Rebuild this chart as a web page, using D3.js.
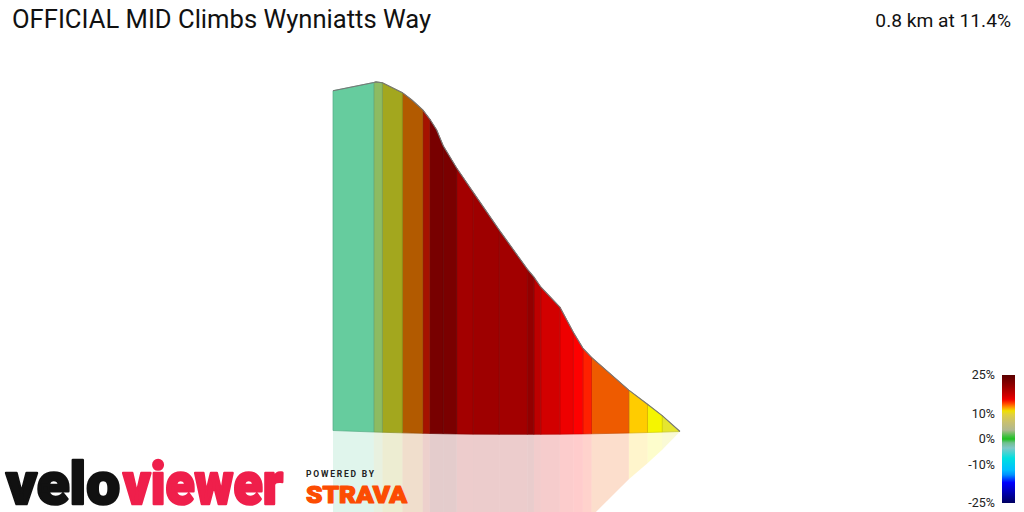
<!DOCTYPE html>
<html><head><meta charset="utf-8">
<script src="https://cdn.jsdelivr.net/npm/d3@7"></script>
<style>body{margin:0;background:#fff;overflow:hidden}svg{display:block}</style>
</head><body><svg id="c" width="1024" height="512"></svg>
<script>
// ---------- data ----------
const titleText = "OFFICIAL MID Climbs Wynniatts Way";
const summaryText = "0.8 km at 11.4%";
// profile: distance from start of climb (m) and elevation above lowest point (m)
const profileDist = [0, 41, 75, 118, 204, 224, 246, 277, 321, 337, 352, 417, 477, 515, 546, 561, 577, 593, 618, 640, 686, 701, 706, 800];
const profileElev = [0, 4.4, 7.6, 11.5, 20.5, 23.0, 27.3, 34.1, 39.5, 42.2, 44.3, 54.8, 64.9, 71.3, 77.2, 81.4, 84.3, 86.7, 89.3, 91.2, 93.7, 93.9, 93.7, 91.1];
// gradient segments (boundaries in m) and their colours
const segmentBreaks = [0, 41, 75, 118, 204, 224, 246, 277, 321, 337, 352, 417, 477, 515, 546, 577, 593, 640, 686, 706, 800];
const segmentColors = ["#E5E52E", "#F5F500", "#FFCC00", "#EE5B00", "#FF2000", "#FF0000", "#EE0000", "#D20000", "#BC0000", "#920000",
  "#A20000", "#9E0000", "#A30000", "#7A0000", "#780000", "#A51200", "#B25A00", "#A3A71E", "#8DBB62", "#66CC9E"];
// legend
const legendTicks = [25, 10, 0, -10, -25];
const legendStopGrades = [25, 21, 17, 15.5, 14, 12.5, 11, 9.5, 6.5, 3.5, 1, 0, -1.5, -3.5, -7.5, -12, -14, -17, -21, -25];
const legendStopColors = ["#5a0000", "#900000", "#d00000", "#ee0000", "#ff4000", "#ff9000", "#f0e000", "#e0d040", "#c8c070", "#b0b890",
  "#40c040", "#20c020", "#70c090", "#80c8c8", "#00e0e0", "#00c0ff", "#0090ff", "#0000ff", "#0000b0", "#000060"];

// ---------- scales ----------
const svg = d3.select("#c");
const x = d3.scaleLinear().domain([0, 800]).range([680, 333]);
const h = d3.scaleLinear().domain([0, 94]).range([0, 350.6]);
const elevAt = d3.scaleLinear().domain(profileDist).range(profileElev);
// slight perspective sag of the ground line
const baseY = d => { const t = d / 800; return 431.5 + 12.4 * t - 13.4 * t * t; };
const topPt = d => [x(d), baseY(d) - h(elevAt(d))];
const reflPt = d => [x(d), baseY(d) + 1.08 * h(elevAt(d))];

function segDists(i) {
  const d0 = segmentBreaks[i], d1 = segmentBreaks[i + 1];
  return [d0, ...profileDist.filter(d => d > d0 && d < d1), d1];
}
const line = d3.line();

// reflections
const gR = svg.append("g");
segmentBreaks.slice(0, -1).forEach((_, i) => {
  const ds = segDists(i);
  const pts = [[x(ds[0]), baseY(ds[0])], ...ds.map(reflPt), [x(ds[ds.length - 1]), baseY(ds[ds.length - 1])]];
  gR.append("path").attr("d", line(pts) + "Z")
    .attr("fill", segmentColors[i]).attr("fill-opacity", 0.2).attr("stroke", "none");
});

// main profile segments
const gM = svg.append("g");
segmentBreaks.slice(0, -1).forEach((_, i) => {
  const ds = segDists(i);
  const pts = [[x(ds[0]), baseY(ds[0])], ...ds.map(topPt), [x(ds[ds.length - 1]), baseY(ds[ds.length - 1])]];
  gM.append("path").attr("d", line(pts) + "Z")
    .attr("fill", segmentColors[i])
    .attr("stroke", d3.color(segmentColors[i]).darker(0.5)).attr("stroke-width", 0.7);
});
// top outline
svg.append("path").attr("d", line(profileDist.map(topPt)))
  .attr("fill", "none").attr("stroke", "#777").attr("stroke-width", 1.1);

// ---------- titles ----------
svg.append("text").attr("x", 12).attr("y", 28).text(titleText)
  .attr("font-family", "Roboto").attr("font-size", 25.6).attr("fill", "#111");
svg.append("text").attr("x", 1011).attr("y", 27).attr("text-anchor", "end").text(summaryText)
  .attr("font-family", "Roboto").attr("font-size", 19.2).attr("fill", "#111");

// ---------- legend ----------
const ly = d3.scaleLinear().domain([25, -25]).range([375, 503]);
const defs = svg.append("defs");
const grad = defs.append("linearGradient").attr("id", "lg").attr("x1", 0).attr("y1", 0).attr("x2", 0).attr("y2", 1);
legendStopGrades.forEach((g, i) => {
  grad.append("stop").attr("offset", (ly(g) - 375) / 128).attr("stop-color", legendStopColors[i]);
});
svg.append("rect").attr("x", 1002).attr("y", 375).attr("width", 13).attr("height", 128).attr("fill", "url(#lg)");
svg.append("g").selectAll("text").data(legendTicks).join("text")
  .attr("x", 995).attr("y", d => ly(d)).attr("dy", "0.35em").attr("text-anchor", "end")
  .attr("font-family", "Roboto").attr("font-size", 12.5).attr("fill", "#222")
  .text(d => d + "%");

// ---------- logos ----------
svg.append("text").attr("x", 6).attr("y", 504).text("velo")
  .attr("font-family", "Roboto").attr("font-weight", 900).attr("font-size", 60).attr("fill", "#111")
  .attr("stroke", "#111").attr("stroke-width", 2.5).attr("stroke-linejoin", "round")
  .attr("textLength", 114).attr("lengthAdjust", "spacingAndGlyphs");
svg.append("text").attr("x", 123).attr("y", 504).text("viewer")
  .attr("font-family", "Roboto").attr("font-weight", 900).attr("font-size", 60).attr("fill", "#ef1f4b")
  .attr("stroke", "#ef1f4b").attr("stroke-width", 2.5).attr("stroke-linejoin", "round")
  .attr("textLength", 160).attr("lengthAdjust", "spacingAndGlyphs");
svg.append("text").attr("x", 306).attr("y", 477).text("POWERED BY")
  .attr("font-family", "Roboto").attr("font-weight", 700).attr("font-size", 8.5).attr("fill", "#222")
  .attr("textLength", 68).attr("lengthAdjust", "spacing");
svg.append("text").attr("x", 306).attr("y", 502.5).text("STRAVA")
  .attr("font-family", "Roboto").attr("font-weight", 900).attr("font-size", 24).attr("fill", "#fc4c02")
  .attr("stroke", "#fc4c02").attr("stroke-width", 1.2).attr("stroke-linejoin", "round")
  .attr("textLength", 101).attr("lengthAdjust", "spacingAndGlyphs");
</script></body></html>
